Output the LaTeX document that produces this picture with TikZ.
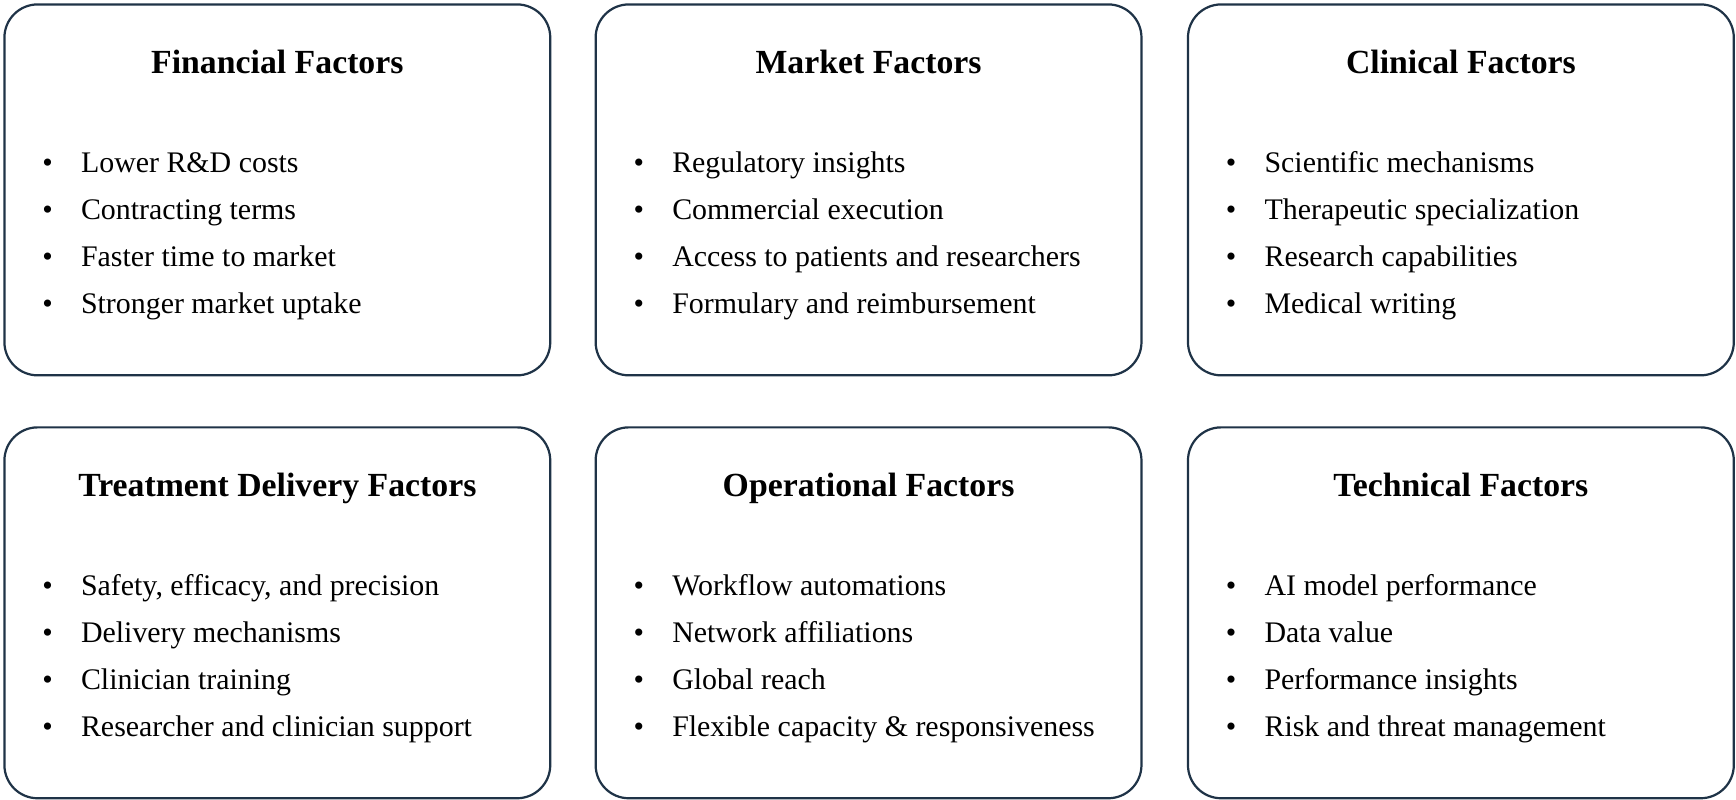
\documentclass[tikz,border=0pt]{standalone}
\usepackage{fontspec}
\setmainfont{Liberation Serif}
\definecolor{boxline}{HTML}{1F3347}

\tikzset{
	factor/.style={draw=boxline,line width=2pt,rounded corners=30pt,minimum width=493pt,minimum height=335pt,inner sep=0pt},
	title/.style={anchor=base,font=\fontsize{30.5}{34}\selectfont\bfseries},
	item/.style={anchor=base west,inner sep=0pt,font=\fontsize{27}{31}\selectfont}
}

% one box: name, left x, top y, title, items
\newcommand{\factorbox}[5]{
	\node[factor,anchor=north west] (#1) at (#2,#3) {};
	\node[title] (#1t) at ([yshift=-63pt]#1.north) {#4};
	\foreach \txt [count=\k] in {#5} {
		\node[item] (#1b\k) at (#2+35,#3+153+42.5*\k-42.5) {\textbullet};
		\node[item] (#1i\k) at (#2+70,#3+153+42.5*\k-42.5) {\txt};
	}
}

\begin{document}
\begin{tikzpicture}[x=1pt,y=-1pt]
	\useasboundingbox (0,0) rectangle (1568,722);

	\factorbox{fin}{3}{3}{Financial Factors}{Lower R\&D costs,Contracting terms,Faster time to market,Stronger market uptake}
	\factorbox{mkt}{537}{3}{Market Factors}{Regulatory insights,Commercial execution,Access to patients and researchers,Formulary and reimbursement}
	\factorbox{cli}{1072}{3}{Clinical Factors}{Scientific mechanisms,Therapeutic specialization,Research capabilities,Medical writing}
	\factorbox{trt}{3}{385}{Treatment Delivery Factors}{{Safety, efficacy, and precision},Delivery mechanisms,Clinician training,Researcher and clinician support}
	\factorbox{ops}{537}{385}{Operational Factors}{Workflow automations,Network affiliations,Global reach,Flexible capacity \& responsiveness}
	\factorbox{tec}{1072}{385}{Technical Factors}{AI model performance,Data value,Performance insights,Risk and threat management}

\end{tikzpicture}
\end{document}
